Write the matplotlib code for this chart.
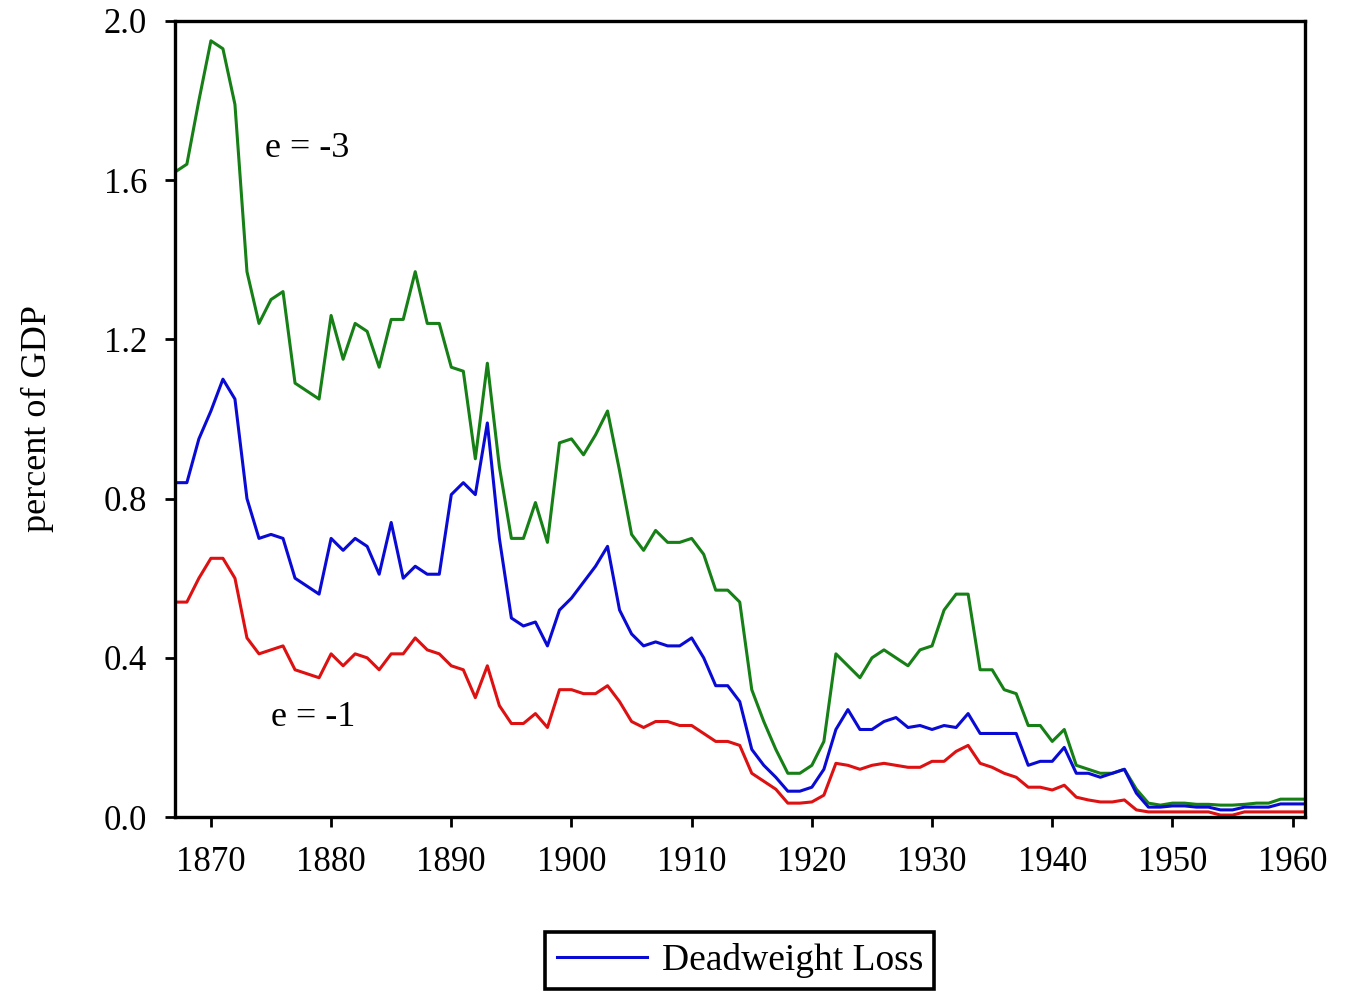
import numpy as np
import matplotlib
matplotlib.use("Agg")
import matplotlib.pyplot as plt

years = np.arange(1867, 1962)

# e = -3
green = [1.62, 1.64, 1.80, 1.95, 1.93, 1.79, 1.37, 1.24, 1.30, 1.32,
         1.09, 1.07, 1.05, 1.26, 1.15, 1.24, 1.22, 1.13, 1.25, 1.25,
         1.37, 1.24, 1.24, 1.13, 1.12, 0.90, 1.14, 0.88, 0.70, 0.70,
         0.79, 0.69, 0.94, 0.95, 0.91, 0.96, 1.02, 0.87, 0.71, 0.67,
         0.72, 0.69, 0.69, 0.70, 0.66, 0.57, 0.57, 0.54, 0.32, 0.24,
         0.17, 0.11, 0.11, 0.13, 0.19, 0.41, 0.38, 0.35, 0.40, 0.42,
         0.40, 0.38, 0.42, 0.43, 0.52, 0.56, 0.56, 0.37, 0.37, 0.32,
         0.31, 0.23, 0.23, 0.19, 0.22, 0.13, 0.12, 0.11, 0.11, 0.12,
         0.07, 0.035, 0.03, 0.035, 0.035, 0.032, 0.032, 0.03, 0.03, 0.032,
         0.035, 0.035, 0.045, 0.045, 0.045]

# deadweight loss (blue)
blue = [0.84, 0.84, 0.95, 1.02, 1.10, 1.05, 0.80, 0.70, 0.71, 0.70,
        0.60, 0.58, 0.56, 0.70, 0.67, 0.70, 0.68, 0.61, 0.74, 0.60,
        0.63, 0.61, 0.61, 0.81, 0.84, 0.81, 0.99, 0.70, 0.50, 0.48,
        0.49, 0.43, 0.52, 0.55, 0.59, 0.63, 0.68, 0.52, 0.46, 0.43,
        0.44, 0.43, 0.43, 0.45, 0.40, 0.33, 0.33, 0.29, 0.17, 0.13,
        0.10, 0.065, 0.065, 0.075, 0.12, 0.22, 0.27, 0.22, 0.22, 0.24,
        0.25, 0.225, 0.23, 0.22, 0.23, 0.225, 0.26, 0.21, 0.21, 0.21,
        0.21, 0.13, 0.14, 0.14, 0.175, 0.11, 0.11, 0.10, 0.11, 0.12,
        0.06, 0.025, 0.025, 0.028, 0.028, 0.025, 0.025, 0.018, 0.018, 0.025,
        0.025, 0.025, 0.033, 0.033, 0.033]

# e = -1
red = [0.54, 0.54, 0.60, 0.65, 0.65, 0.60, 0.45, 0.41, 0.42, 0.43,
       0.37, 0.36, 0.35, 0.41, 0.38, 0.41, 0.40, 0.37, 0.41, 0.41,
       0.45, 0.42, 0.41, 0.38, 0.37, 0.30, 0.38, 0.28, 0.235, 0.235,
       0.26, 0.225, 0.32, 0.32, 0.31, 0.31, 0.33, 0.29, 0.24, 0.225,
       0.24, 0.24, 0.23, 0.23, 0.21, 0.19, 0.19, 0.18, 0.11, 0.09,
       0.07, 0.035, 0.035, 0.038, 0.055, 0.135, 0.13, 0.12, 0.13, 0.135,
       0.13, 0.125, 0.125, 0.14, 0.14, 0.165, 0.18, 0.135, 0.125, 0.11,
       0.10, 0.075, 0.075, 0.068, 0.08, 0.05, 0.043, 0.038, 0.038, 0.043,
       0.018, 0.013, 0.013, 0.013, 0.013, 0.013, 0.013, 0.005, 0.005, 0.013,
       0.013, 0.013, 0.013, 0.013, 0.013]

xticks = [1870, 1880, 1890, 1900, 1910, 1920, 1930, 1940, 1950, 1960]
yticks = [0.0, 0.4, 0.8, 1.2, 1.6, 2.0]

plt.rcParams['font.family'] = ['Liberation Serif', 'DejaVu Serif']

fig = plt.figure(figsize=(13.45, 9.94), dpi=100)
ax = fig.add_axes([0.130, 0.178, 0.840, 0.801])

ax.plot(years, green, color='#167f16', lw=2.2)
ax.plot(years, red, color='#dd1111', lw=2.2)
ax.plot(years, blue, color='#0a0ad5', lw=2.2, label='Deadweight Loss')

ax.set_xlim(1867, 1961)
ax.set_ylim(0, 2.0)
ax.set_xticks(xticks)
ax.set_yticks(yticks)
ax.set_yticklabels([f'{v:.1f}' for v in yticks])
ax.tick_params(direction='out', length=7, width=2, labelsize=25)
ax.tick_params(axis='x', pad=14)
ax.tick_params(axis='y', pad=13)
for s in ax.spines.values():
    s.set_linewidth(2.4)

ax.set_ylabel('percent of GDP', fontsize=26, labelpad=36)

ax.text(1874.5, 1.68, 'e = -3', fontsize=26, va='center')
ax.text(1875.0, 0.25, 'e = -1', fontsize=26, va='center')

leg = ax.legend(loc='upper center', bbox_to_anchor=(0.5, -0.144), fontsize=27,
                frameon=True, fancybox=False, edgecolor='black',
                handlelength=2.4, handletextpad=0.4, borderpad=0.3,
                borderaxespad=0)
leg.get_frame().set_linewidth(2.6)
leg.get_frame().set_alpha(1)

fig.savefig('out.png', dpi=100)
